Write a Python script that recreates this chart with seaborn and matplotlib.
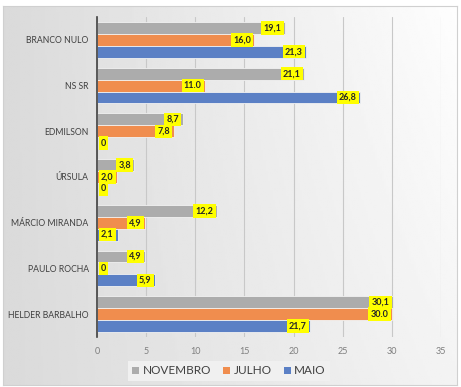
import numpy as np
import pandas as pd
import matplotlib.pyplot as plt
import seaborn as sns
from matplotlib.patches import Patch

# Chart data
categories = ["BRANCO NULO", "NS SR", "EDMILSON", "ÚRSULA",
              "MÁRCIO MIRANDA", "PAULO ROCHA", "HELDER BARBALHO"]
series = ["NOVEMBRO", "JULHO", "MAIO"]
novembro = [19.1, 21.1, 8.7, 3.8, 12.2, 4.9, 30.1]
julho = [16.0, 11.0, 7.8, 2.0, 4.9, 0.0, 30.0]
maio = [21.3, 26.8, 0.0, 0.0, 2.1, 5.9, 21.7]
novembro_labels = ["19,1", "21,1", "8,7", "3,8", "12,2", "4,9", "30,1"]
julho_labels = ["16,0", "11.0", "7,8", "2,0", "4,9", "0", "30.0"]
maio_labels = ["21,3", "26,8", "0", "0", "2,1", "5,9", "21,7"]
x_ticks = [0, 5, 10, 15, 20, 25, 30, 35]

colors = ["#ACACAC", "#F08D4E", "#5B80C5"]

# long table for seaborn
df = pd.DataFrame({
    "candidato": categories * 3,
    "mes": [s for s in series for _ in categories],
    "valor": novembro + julho + maio,
})
labels = [novembro_labels, julho_labels, maio_labels]

sns.set_style("white")
plt.rcParams["font.family"] = ["Lato", "DejaVu Sans"]

fig = plt.figure(figsize=(4.61, 3.87), dpi=100)
fig.patch.set_facecolor("white")

# gradient background with border
bg = fig.add_axes([3 / 461, 2 / 387, 454 / 461, 379 / 387], zorder=0)
gx = np.linspace(0, 1, 200)
gy = np.linspace(0, 1, 200)
GX, GY = np.meshgrid(gx, gy)
grad = 0.855 + 0.10 * GX + 0.04 * (1 - GY) * GX
bg.imshow(grad, cmap="gray", vmin=0, vmax=1, aspect="auto",
          extent=[0, 1, 0, 1], origin="upper")
bg.set_xticks([])
bg.set_yticks([])
for sp in bg.spines.values():
    sp.set_color("#D0D0D0")
    sp.set_linewidth(0.8)

ax = fig.add_axes([97 / 461, 1 - 337 / 387, 344 / 461, 320 / 387], zorder=1)
ax.patch.set_alpha(0)

sns.barplot(data=df, y="candidato", x="valor", hue="mes", order=categories,
            hue_order=series, palette=colors, width=0.78, orient="h",
            saturation=1, edgecolor="#F2F2F2", linewidth=0.6, legend=False,
            ax=ax)

ax.set_xlim(0, 35)
ax.set_xticks(x_ticks)
ax.set_xticklabels([str(t) for t in x_ticks], fontsize=6.5, color="#7F7F7F")
ax.tick_params(axis="y", labelsize=6.2, colors="#404040", length=0, pad=6)
ax.tick_params(axis="x", length=0, pad=7)
ax.set_xlabel("")
ax.set_ylabel("")
ax.grid(axis="x", color="#C8C8C8", linewidth=0.8)
ax.set_axisbelow(True)
for side in ["top", "right", "bottom"]:
    ax.spines[side].set_visible(False)
ax.spines["left"].set_color("#404040")
ax.spines["left"].set_linewidth(1.2)

# data labels with yellow boxes
for cont, labs in zip(ax.containers, labels):
    for bar, lab in zip(cont, labs):
        v = bar.get_width()
        yc = bar.get_y() + bar.get_height() / 2
        if v < 2.5:
            ax.text(0.4, yc, lab, ha="left", va="center", fontsize=6.5,
                    fontweight="bold", color="#262626",
                    bbox=dict(boxstyle="square,pad=0.25", facecolor="#FFFF00",
                              edgecolor="none"))
        else:
            ax.text(v - 0.35, yc, lab, ha="right", va="center", fontsize=6.5,
                    fontweight="bold", color="#262626",
                    bbox=dict(boxstyle="square,pad=0.25", facecolor="#FFFF00",
                              edgecolor="none"))

handles = [Patch(facecolor=c, edgecolor="none") for c in colors]
leg = fig.legend(handles, series, loc="center", ncol=3,
                 bbox_to_anchor=(229 / 461, 1 - 371 / 387), frameon=True,
                 fontsize=8.5, handlelength=0.6, handleheight=0.6,
                 handletextpad=0.3, columnspacing=1.0, borderpad=0.35,
                 fancybox=False)
leg.get_frame().set_facecolor("#F0F0F0")
leg.get_frame().set_edgecolor("none")
leg.get_frame().set_alpha(1)
for t in leg.get_texts():
    t.set_color("#404040")

fig.savefig("out.png", dpi=100)
